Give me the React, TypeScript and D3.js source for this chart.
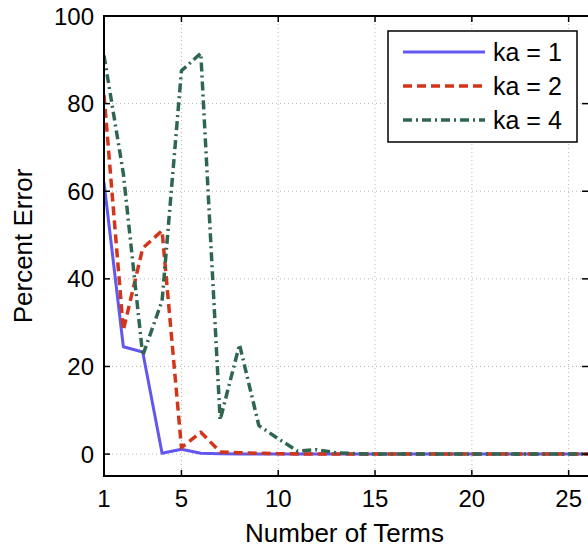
import React from "react";
import * as d3 from "d3";

const terms = d3.range(1, 27);
const ka1 = [62, 24.5, 23.3, 0.2, 1.1, 0.2, 0.1, 0.05, 0, 0, 0, 0, 0, 0, 0, 0, 0, 0, 0, 0, 0, 0, 0, 0, 0, 0];
const ka2 = [82, 28.3, 47, 51, 1.5, 5, 0.5, 0.3, 0.2, 0.1, 0.05, 0, 0, 0, 0, 0, 0, 0, 0, 0, 0, 0, 0, 0, 0, 0];
const ka4 = [91, 64, 22.5, 35, 87.5, 91.5, 7.8, 25, 6.5, 3.5, 0.7, 1, 0.3, 0.1, 0, 0, 0, 0, 0, 0, 0, 0, 0, 0, 0, 0];
const seriesNames = ["ka = 1", "ka = 2", "ka = 4"];
const xTicks = [1, 5, 10, 15, 20, 25];
const yTicks = [0, 20, 40, 60, 80, 100];
const xGrid = [5, 10, 15, 20, 25];
const yGrid = [0, 20, 40, 60, 80];

const W = 588, H = 548;
const L = 104, R = 588, T = 16, B = 476;
const FONT = "'Liberation Sans', Arial, sans-serif";

const styles = [
  { color: "#6257ee", width: 3, dash: "none" },
  { color: "#d2361a", width: 3.5, dash: "9,5" },
  { color: "#2f6650", width: 3.5, dash: "9,4,2,4" },
];

export default function App() {
  const x = d3.scaleLinear().domain([1, 26]).range([L, R]);
  const y = d3.scaleLinear().domain([-5, 100]).range([B, T]);
  const line = d3.line<number>().x((_, i) => x(terms[i])).y((d) => y(d));
  const data = [ka1, ka2, ka4];
  const tl = 6;
  return (
    <svg width={W} height={H} style={{ position: "absolute", left: 0, top: 0, background: "#fff" }} fontFamily={FONT}>
      <defs>
        <clipPath id="plot"><rect x={L} y={T} width={R - L} height={B - T} /></clipPath>
      </defs>
      <rect x={0} y={0} width={W} height={H} fill="#fff" />
      {xGrid.map((t) => (
        <line key={"xg" + t} x1={x(t)} x2={x(t)} y1={T} y2={B} stroke="#b8b8b8" strokeWidth={1} strokeDasharray="1,3" />
      ))}
      {yGrid.map((t) => (
        <line key={"yg" + t} x1={L} x2={R} y1={y(t)} y2={y(t)} stroke="#b8b8b8" strokeWidth={1} strokeDasharray="1,3" />
      ))}
      <g clipPath="url(#plot)">
        {data.map((d, i) => (
          <path key={i} d={line(d) || ""} fill="none" stroke={styles[i].color} strokeWidth={styles[i].width}
            strokeDasharray={styles[i].dash} strokeLinejoin="round" />
        ))}
      </g>
      {/* axes box */}
      <rect x={L} y={T} width={R + 1 - L} height={B - T} fill="none" stroke="#000" strokeWidth={2} />
      {xTicks.map((t) => (
        <g key={"xt" + t}>
          <line x1={x(t)} x2={x(t)} y1={B} y2={B - tl} stroke="#000" strokeWidth={1.5} />
          <line x1={x(t)} x2={x(t)} y1={T} y2={T + tl} stroke="#000" strokeWidth={1.5} />
          <text x={x(t)} y={507} textAnchor="middle" fontSize={24}>{t}</text>
        </g>
      ))}
      {yTicks.map((t) => (
        <g key={"yt" + t}>
          <line x1={L} x2={L + tl} y1={y(t)} y2={y(t)} stroke="#000" strokeWidth={1.5} />
          <line x1={R} x2={R - tl} y1={y(t)} y2={y(t)} stroke="#000" strokeWidth={1.5} />
          <text x={94} y={y(t) + 8.5} textAnchor="end" fontSize={24}>{t}</text>
        </g>
      ))}
      <text x={344.5} y={542} textAnchor="middle" fontSize={26}>Number of Terms</text>
      <text transform={`translate(32,${(T + B) / 2}) rotate(-90)`} textAnchor="middle" fontSize={26}>Percent Error</text>
      {/* legend */}
      <rect x={388} y={31} width={189} height={111} fill="#fff" stroke="#000" strokeWidth={1.5} />
      {seriesNames.map((n, i) => {
        const ly = 52 + i * 34;
        return (
          <g key={n}>
            <line x1={403} x2={485} y1={ly} y2={ly} stroke={styles[i].color} strokeWidth={styles[i].width}
              strokeDasharray={styles[i].dash} />
            <text x={493} y={ly + 9} fontSize={25}>{n}</text>
          </g>
        );
      })}
    </svg>
  );
}
